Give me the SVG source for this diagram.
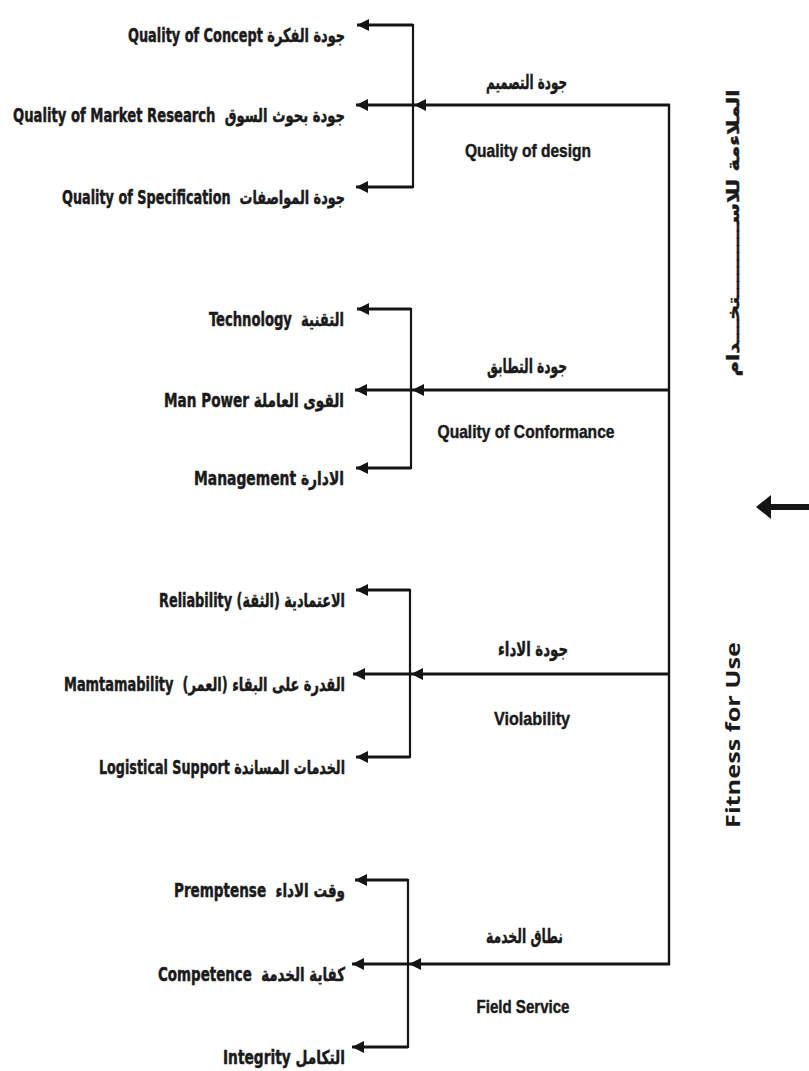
<svg xmlns="http://www.w3.org/2000/svg" width="809" height="1071" viewBox="0 0 809 1071">
<defs>
<marker id="ah" markerUnits="userSpaceOnUse" markerWidth="14" markerHeight="14" refX="12" refY="7" orient="auto">
<path d="M0,1 L12,7 L0,13 Z" fill="#151515"/>
</marker>
<style>
.lb{font-family:"Liberation Sans Narrow","DejaVu Sans Condensed","Liberation Sans","DejaVu Sans",sans-serif;font-weight:bold;font-size:19px;fill:#1a1a1a;stroke:#1a1a1a;stroke-width:0.45}
.en{font-family:"Liberation Sans Narrow","Liberation Sans",Arial,sans-serif;font-weight:bold;font-size:19px;fill:#1a1a1a;stroke:#1a1a1a;stroke-width:0.45}
.ar{font-family:"DejaVu Sans Condensed","DejaVu Sans",sans-serif;font-weight:bold;font-size:19.5px;fill:#1a1a1a;stroke:#1a1a1a;stroke-width:0.4}
.br{stroke:#151515;fill:none;stroke-width:2.2}
.mv{stroke:#151515;fill:none;stroke-width:2.4}
.ar-l{stroke:#151515;fill:none;stroke-width:2.8;marker-end:url(#ah)}
.ar-m{stroke:#151515;fill:none;stroke-width:3.2;marker-end:url(#ah)}
</style>
</defs>
<rect width="809" height="1071" fill="#ffffff"/>
<g id="connectors">
<path class="mv" d="M669,104 L669,965"/>
<path class="ar-m" d="M670,105 L414,105"/>
<path class="ar-m" d="M670,390 L412,390"/>
<path class="ar-m" d="M670,674 L411,674"/>
<path class="ar-m" d="M670,964 L409,964"/>
<path class="br" d="M401,25 L413,25 L413,187 L401,187"/>
<path class="br" d="M399,309 L411,309 L411,468 L399,468"/>
<path class="br" d="M398,590 L410,590 L410,757 L398,757"/>
<path class="br" d="M396,880 L408,880 L408,1047 L396,1047"/>
<path class="ar-l" d="M413,25 L357,25"/>
<path class="ar-l" d="M413,105 L356,105"/>
<path class="ar-l" d="M413,187 L356,187"/>
<path class="ar-l" d="M411,309 L357,309"/>
<path class="ar-l" d="M411,390 L355,390"/>
<path class="ar-l" d="M411,468 L356,468"/>
<path class="ar-l" d="M410,590 L356,590"/>
<path class="ar-l" d="M410,674 L353,674"/>
<path class="ar-l" d="M410,757 L356,757"/>
<path class="ar-l" d="M408,880 L355,880"/>
<path class="ar-l" d="M408,964 L352,964"/>
<path class="ar-l" d="M408,1047 L352,1047"/>
<path d="M768,507 L809,507" stroke="#151515" stroke-width="6" fill="none"/>
<path d="M756,507 L771,495 L771,519 Z" fill="#151515"/>
</g>

<g id="fitness-for-use">
<text transform="translate(740,735) rotate(-90)" text-anchor="middle" style="font-family:'Open Sans','DejaVu Sans',sans-serif;font-weight:bold;font-size:19px;fill:#1a1a1a" textLength="186" lengthAdjust="spacingAndGlyphs">Fitness for Use</text>
<text class="ar" transform="translate(739,233) rotate(-90)" text-anchor="middle" style="font-size:17px" textLength="287" lengthAdjust="spacingAndGlyphs">الملاءمة للاســــــــــتخـــدام</text>
</g>

<g id="quality-of-design">
<text class="ar" x="567" y="89" text-anchor="end" textLength="81" lengthAdjust="spacingAndGlyphs">جودة التصميم</text>
<text class="en" x="528" y="157" text-anchor="middle" textLength="126" lengthAdjust="spacingAndGlyphs">Quality of design</text>
</g>
<g id="quality-of-concept">
<text class="lb" x="345" y="42" text-anchor="end" textLength="217" lengthAdjust="spacingAndGlyphs">Quality of Concept جودة الفكرة</text>
</g>
<g id="quality-of-market-research">
<text class="lb" x="345" y="122" text-anchor="end" textLength="332" lengthAdjust="spacingAndGlyphs" xml:space="preserve">Quality of Market Research  جودة بحوث السوق</text>
</g>
<g id="quality-of-specification">
<text class="lb" x="345" y="204" text-anchor="end" textLength="283" lengthAdjust="spacingAndGlyphs" xml:space="preserve">Quality of Specification  جودة المواصفات</text>
</g>

<g id="quality-of-conformance">
<text class="ar" x="567" y="373" text-anchor="end" textLength="80" lengthAdjust="spacingAndGlyphs">جودة التطابق</text>
<text class="en" x="526" y="438" text-anchor="middle" textLength="177" lengthAdjust="spacingAndGlyphs">Quality of Conformance</text>
</g>
<g id="technology">
<text class="lb" x="344" y="326" text-anchor="end" textLength="135" lengthAdjust="spacingAndGlyphs" xml:space="preserve">Technology  التقنية</text>
</g>
<g id="man-power">
<text class="lb" x="344" y="407" text-anchor="end" textLength="180" lengthAdjust="spacingAndGlyphs">Man Power القوى العاملة</text>
</g>
<g id="management">
<text class="lb" x="344" y="485" text-anchor="end" textLength="150" lengthAdjust="spacingAndGlyphs">Management الادارة</text>
</g>

<g id="violability">
<text class="ar" x="568" y="656" text-anchor="end" textLength="70" lengthAdjust="spacingAndGlyphs">جودة الاداء</text>
<text class="en" x="532" y="725" text-anchor="middle" textLength="76" lengthAdjust="spacingAndGlyphs">Violability</text>
</g>
<g id="reliability">
<text class="lb" x="345" y="607" text-anchor="end" textLength="186" lengthAdjust="spacingAndGlyphs">Reliability الاعتمادية (الثقة)&#x200F;</text>
</g>
<g id="mamtamability">
<text class="lb" x="345" y="691" text-anchor="end" textLength="281" lengthAdjust="spacingAndGlyphs" xml:space="preserve">Mamtamability  القدرة على البقاء (العمر)&#x200F;</text>
</g>
<g id="logistical-support">
<text class="lb" x="345" y="774" text-anchor="end" textLength="246" lengthAdjust="spacingAndGlyphs">Logistical Support الخدمات المساندة</text>
</g>

<g id="field-service">
<text class="ar" x="563" y="943" text-anchor="end" textLength="77" lengthAdjust="spacingAndGlyphs">نطاق الخدمة</text>
<text class="en" x="523" y="1013" text-anchor="middle" textLength="93" lengthAdjust="spacingAndGlyphs">Field Service</text>
</g>
<g id="premptense">
<text class="lb" x="345" y="897" text-anchor="end" textLength="171" lengthAdjust="spacingAndGlyphs" xml:space="preserve">Premptense  وقت الاداء</text>
</g>
<g id="competence">
<text class="lb" x="345" y="981" text-anchor="end" textLength="187" lengthAdjust="spacingAndGlyphs" xml:space="preserve">Competence  كفاية الخدمة</text>
</g>
<g id="integrity">
<text class="lb" x="345" y="1064" text-anchor="end" textLength="122" lengthAdjust="spacingAndGlyphs">Integrity التكامل</text>
</g>
</svg>
